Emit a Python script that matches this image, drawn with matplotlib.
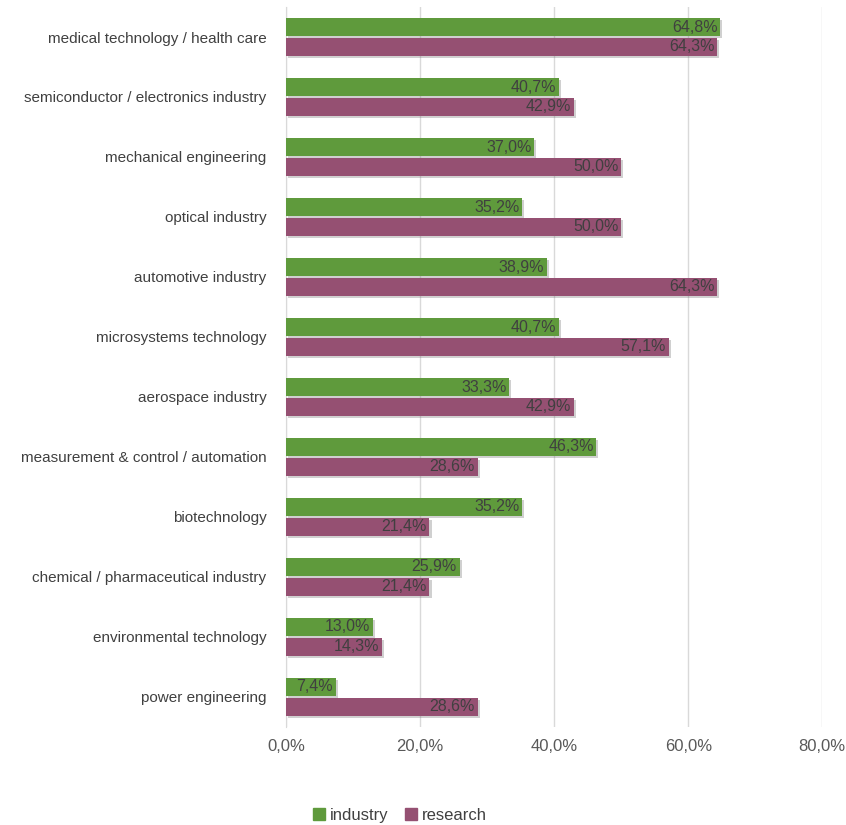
import matplotlib
matplotlib.use('Agg')
import matplotlib.pyplot as plt
import matplotlib.patheffects as pe
from matplotlib.patches import Patch
import numpy as np

plt.rcParams['font.family'] = ['Liberation Sans', 'DejaVu Sans']

categories = ['medical technology / health care',
              'semiconductor / electronics industry',
              'mechanical engineering',
              'optical industry',
              'automotive industry',
              'microsystems technology',
              'aerospace industry',
              'measurement & control / automation',
              'biotechnology',
              'chemical / pharmaceutical industry',
              'environmental technology',
              'power engineering']
industry = [64.8, 40.7, 37.0, 35.2, 38.9, 40.7, 33.3, 46.3, 35.2, 25.9, 13.0, 7.4]
research = [64.3, 42.9, 50.0, 50.0, 64.3, 57.1, 42.9, 28.6, 21.4, 21.4, 14.3, 28.6]
xticks = [0, 20, 40, 60, 80]

green = '#5F9A3C'
purple = '#955072'

fig = plt.figure(figsize=(8.46, 8.25), dpi=100)
ax = fig.add_axes([0.338, 0.119, 0.634, 0.8725])

y = np.arange(len(categories))
h = 0.3
shadow = [pe.SimplePatchShadow(offset=(1.5, -1.5), shadow_rgbFace='#666666', alpha=0.3), pe.Normal()]
b1 = ax.barh(y - 0.165, industry, height=h, color=green, zorder=3)
b2 = ax.barh(y + 0.165, research, height=h, color=purple, zorder=3)
for b in list(b1) + list(b2):
    b.set_path_effects(shadow)

def fmt(v):
    return f'{v:.1f}%'.replace('.', ',')

for yy, v in zip(y - 0.165, industry):
    ax.text(v - 0.4, yy, fmt(v), ha='right', va='center', fontsize=11.5, color='#404040', zorder=4)
for yy, v in zip(y + 0.165, research):
    ax.text(v - 0.4, yy, fmt(v), ha='right', va='center', fontsize=11.5, color='#404040', zorder=4)

ax.set_ylim(len(categories) - 0.5, -0.5)
ax.set_xlim(0, 80)
ax.set_yticks(y)
ax.set_yticklabels(categories, fontsize=11, color='#404040')
ax.set_xticks(xticks)
ax.set_xticklabels([fmt(t) for t in xticks], fontsize=12, color='#595959')
ax.tick_params(axis='y', length=0, pad=14)
ax.tick_params(axis='x', length=0, pad=9)
ax.grid(axis='x', color='#D9D9D9', linewidth=1, zorder=0)
for s in ['top', 'right', 'bottom']:
    ax.spines[s].set_visible(False)
ax.spines['left'].set_color('#D9D9D9')

handles = [Patch(color=green), Patch(color=purple)]
fig.legend(handles=handles, labels=['industry', 'research'], loc='center',
           bbox_to_anchor=(0.473, 0.012), ncol=2, frameon=False, fontsize=12,
           handlelength=0.7, handleheight=0.7, handletextpad=0.3, columnspacing=1.0,
           labelcolor='#404040')

fig.savefig('out.png', dpi=100)
